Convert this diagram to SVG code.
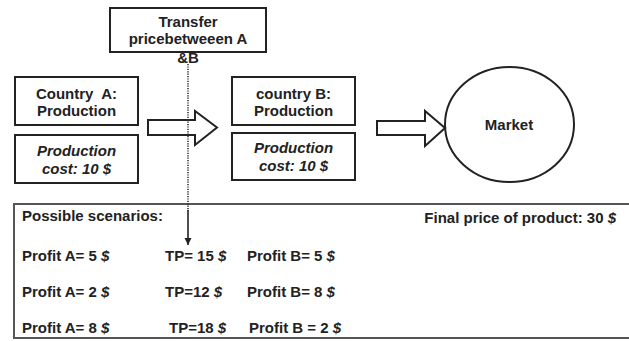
<svg xmlns="http://www.w3.org/2000/svg" width="629" height="341" viewBox="0 0 629 341">
<style>
  .box { fill: #ffffff; stroke: #222; stroke-width: 2; }
  .arrow { fill: #ffffff; stroke: #222; stroke-width: 2; stroke-linejoin: miter; }
  .t { font-family: "Liberation Sans", Arial, sans-serif; font-weight: bold; font-size: 15px; fill: #222; }
  .c { text-anchor: middle; }
  .i { font-style: italic; }
  .dot { stroke: #333; stroke-width: 1.6; stroke-dasharray: 1.2 1.2; fill: none; }
  .line { stroke: #222; stroke-width: 1.6; fill: none; }
</style>
<defs>
  <marker id="ah" viewBox="0 0 10 10" refX="10" refY="5" markerWidth="7" markerHeight="8" markerUnits="userSpaceOnUse" orient="auto">
    <path d="M0,0 L10,5 L0,10 Z" fill="#222"/>
  </marker>
</defs>
<rect width="629" height="341" fill="#ffffff"/>

<g id="scenarios">
  <rect x="14" y="204" width="630" height="134" fill="#ffffff" stroke="#555" stroke-width="2"/>
  <text class="t" x="22" y="221">Possible scenarios:</text>
  <text class="t" x="616" y="223" text-anchor="end">Final price of product: 30 <tspan class="i">$</tspan></text>
  <text class="t" x="22" y="261">Profit A= 5 <tspan class="i">$</tspan></text>
  <text class="t" x="165" y="261">TP= 15 <tspan class="i">$</tspan></text>
  <text class="t" x="247" y="261">Profit B= 5 <tspan class="i">$</tspan></text>
  <text class="t" x="22" y="297">Profit A= 2 <tspan class="i">$</tspan></text>
  <text class="t" x="165" y="297">TP=12 <tspan class="i">$</tspan></text>
  <text class="t" x="247" y="297">Profit B= 8 <tspan class="i">$</tspan></text>
  <text class="t" x="22" y="333">Profit A= 8 <tspan class="i">$</tspan></text>
  <text class="t" x="169" y="333">TP=18 <tspan class="i">$</tspan></text>
  <text class="t" x="249" y="333">Profit B = 2 <tspan class="i">$</tspan></text>
</g>

<g id="transfer">
  <rect class="box" x="110" y="8" width="156" height="44"/>
  <text class="t c" x="188" y="27">Transfer</text>
  <text class="t c" x="188" y="44">pricebetweeen A</text>
  <text class="t c" x="188" y="63">&amp;B</text>
</g>

<g id="countryA">
  <rect class="box" x="15" y="77" width="123" height="48"/>
  <text class="t c" x="76.5" y="99" xml:space="preserve">Country  A:</text>
  <text class="t c" x="76.5" y="116">Production</text>
</g>

<g id="costA">
  <rect class="box" x="15" y="135" width="123" height="48"/>
  <text class="t c i" x="76.5" y="156">Production</text>
  <text class="t c i" x="76.5" y="174">cost: 10 $</text>
</g>

<g id="countryB">
  <rect class="box" x="232" y="77" width="123" height="48"/>
  <text class="t c" x="293.5" y="99">country B:</text>
  <text class="t c" x="293.5" y="116">Production</text>
</g>

<g id="costB">
  <rect class="box" x="232" y="133" width="123" height="47"/>
  <text class="t c i" x="293.5" y="153">Production</text>
  <text class="t c i" x="293.5" y="171">cost: 10 $</text>
</g>

<g id="market">
  <ellipse cx="509.5" cy="124.5" rx="64.5" ry="57.5" fill="#ffffff" stroke="#222" stroke-width="2"/>
  <text class="t c" x="509" y="130">Market</text>
</g>

<g id="connectors">
  <path class="arrow" d="M148,120 L195,120 L195,111 L217,127.5 L195,145 L195,135 L148,135 Z"/>
  <path class="arrow" d="M377,121 L425,121 L425,111 L445,128 L425,146 L425,135 L377,135 Z"/>
  <line class="dot" x1="188" y1="64" x2="188" y2="211"/>
  <line class="line" x1="188" y1="210" x2="188" y2="245" marker-end="url(#ah)"/>
</g>
</svg>
